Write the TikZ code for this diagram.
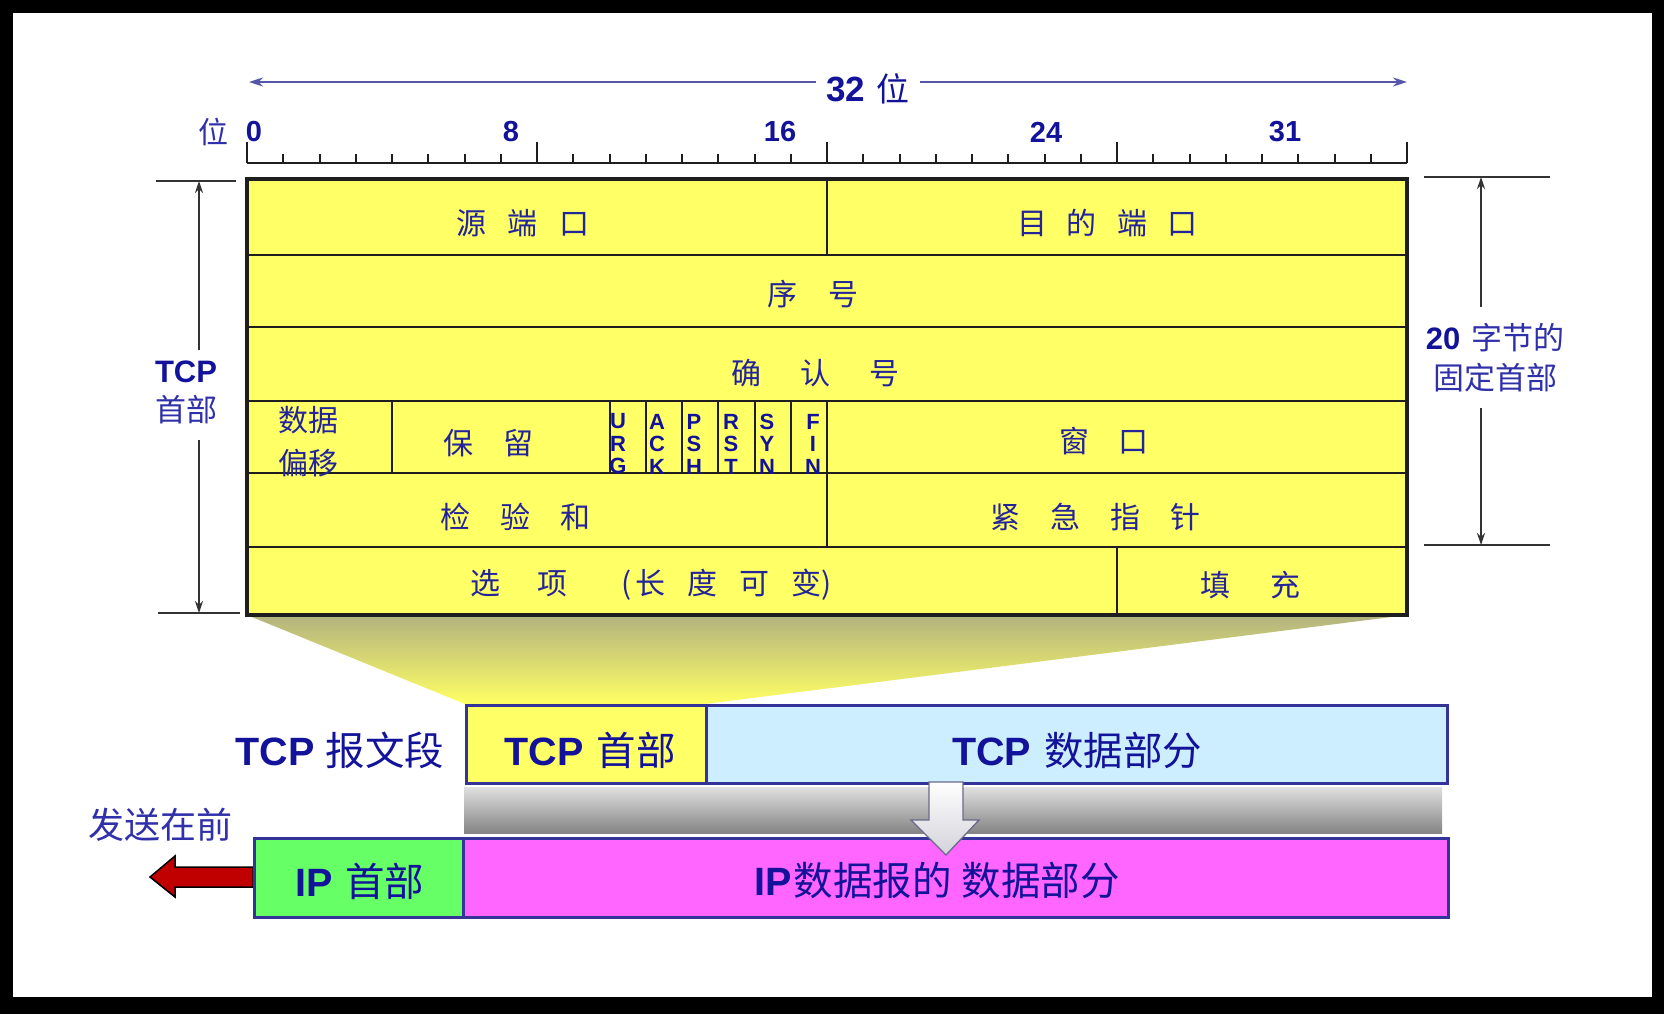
\documentclass[tikz,border=0pt]{standalone}
\usepackage{fontspec}
\setmainfont{Liberation Sans}
\newfontfamily\cjk{Noto Sans CJK SC}
\usetikzlibrary{arrows.meta}
\newcommand\myfs[1]{\fontsize{#1}{#1}\selectfont}
\definecolor{txtblue}{HTML}{12129A}
\definecolor{cjkblue}{HTML}{24249A}
\definecolor{lblblue}{HTML}{3030AA}
\definecolor{tblyellow}{HTML}{FFFF66}
\definecolor{boxblue}{HTML}{333399}
\definecolor{lightblue}{HTML}{CCEEFF}
\definecolor{ipgreen}{HTML}{66FF66}
\definecolor{ipmag}{HTML}{FF66FF}
\definecolor{dimgray}{HTML}{333333}
\definecolor{gridblack}{HTML}{1E1E1E}
\definecolor{arrowred}{HTML}{C00000}
\definecolor{rulerblue}{HTML}{5555AA}
\definecolor{arrowgray}{HTML}{6A6A8A}
\begin{document}
\begin{tikzpicture}[x=1pt,y=-1pt,
  field/.style={font=\cjk\myfs{30}, text=cjkblue, inner sep=0pt},
  rulernum/.style={font=\bfseries\myfs{29}, text=txtblue, inner sep=0pt},
  flagtxt/.style={font=\bfseries\fontsize{22}{22.5}\selectfont, text=txtblue, align=center, inner sep=0pt},
  side/.style={text=lblblue, align=center, inner sep=0pt},
  big/.style={font=\myfs{39.5}, text=txtblue, inner sep=0pt},
  seg/.style={draw=boxblue, line width=3pt, anchor=north west, inner sep=0pt},
  grid/.style={draw=gridblack, line width=2pt},
  rulerline/.style={draw=gridblack, line width=2pt},
  dimline/.style={draw=dimgray, line width=1.8pt},
  dimarrow/.style={dimline, -{Stealth[length=12pt,width=8pt]}},
  bitarrow/.style={draw=rulerblue, line width=2.2pt, -{Stealth[length=14pt,width=9pt]}}
]
% background
\fill[black] (0,0) rectangle (1664,1014);
\fill[white] (13,13) rectangle (1652,997);
\useasboundingbox (0,0) rectangle (1664,1014);

% zoom trapezoid
\shade[top color={rgb,255:red,178;green,178;blue,128}, bottom color={rgb,255:red,255;green,255;blue,100}]
  (247,615) -- (1407,615) -- (705,704) -- (465,704) -- cycle;

% table
\fill[tblyellow] (247,179) rectangle (1407,615);
\foreach \yy in {255,327,401,473,547} \draw[grid] (247,\yy) -- (1407,\yy);
\draw[grid] (827,179) -- (827,255);
\draw[grid] (392,401) -- (392,473);
\foreach \b in {10,...,15} \draw[grid] ({247+36.25*\b},401) -- ({247+36.25*\b},473);
\draw[grid] (827,401) -- (827,547);
\draw[grid] (1117,547) -- (1117,615);
\draw[line width=4pt, draw=gridblack] (247,179) rectangle (1407,615);

% field texts
\node[field] (srcport) at (523,223) {源\hspace{22pt}端\hspace{22pt}口};
\node[field] (dstport) at (1107,223) {目\hspace{20pt}的\hspace{20pt}端\hspace{20pt}口};
\node[field] (seqno) at (813,294) {序\hspace{31pt}号};
\node[field] (ackno) at (815,373) {确\hspace{39pt}认\hspace{39pt}号};
\node[field, align=center, font=\cjk\fontsize{30}{43}\selectfont] (offset) at (308,442) {数据\\偏移};
\node[field] (reserved) at (488,443) {保\hspace{30pt}留};
\node[field] (window) at (1104,441) {窗\hspace{29pt}口};
\node[field] (checksum) at (515,517) {检\hspace{30pt}验\hspace{30pt}和};
\node[field] (urgent) at (1095,517) {紧\hspace{30pt}急\hspace{30pt}指\hspace{30pt}针};
\node[field, anchor=west] (options) at (470,585) {选\hspace{37pt}项\hspace{54pt}(\hspace{4pt}长\hspace{22pt}度\hspace{22pt}可\hspace{22pt}变)};
\node[field] (padding) at (1250,585) {填\hspace{40pt}充};

% flags
\node[flagtxt] (flagurg) at (618,444) {U\\R\\G};
\node[flagtxt] (flagack) at (657,444) {A\\C\\K};
\node[flagtxt] (flagpsh) at (694,444) {P\\S\\H};
\node[flagtxt] (flagrst) at (731,444) {R\\S\\T};
\node[flagtxt] (flagsyn) at (767,444) {S\\Y\\N};
\node[flagtxt] (flagfin) at (813,444) {F\\I\\N};

% ruler
\draw[rulerline] (247,163) -- (1407,163);
\foreach \i in {0,...,32} {
  \pgfmathsetmacro\xx{247+36.25*\i}
  \pgfmathtruncatemacro\m{mod(\i,8)}
  \ifnum\m=0
    \draw[rulerline] (\xx,163) -- (\xx,142);
  \else
    \draw[rulerline] (\xx,163) -- (\xx,154);
  \fi
}
\node[side, font=\cjk\myfs{30}] (weilbl) at (213,132) {位};
\node[rulernum] (r0) at (254,132) {0};
\node[rulernum] (r8) at (511,132) {8};
\node[rulernum] (r16) at (780,132) {16};
\node[rulernum] (r24) at (1046,132) {24};
\node[rulernum] (r31) at (1285,132) {31};

% 32 bits arrow
\node[inner sep=0pt, text=txtblue] (bits) at (868,89) {{\bfseries\myfs{35}32}\hspace{12pt}{\cjk\myfs{33}位}};
\coordinate (bitsl) at (249,82);
\coordinate (bitsr) at (1407,82);
\draw[bitarrow] ([xshift=-10pt]bits.west |- bitsl) -- (bitsl);
\draw[bitarrow] ([xshift=10pt]bits.east |- bitsr) -- (bitsr);

% left dimension: TCP header
\coordinate (lt) at (199,181);
\coordinate (lb) at (199,613);
\coordinate (lgt) at (199,350);
\coordinate (lgb) at (199,440);
\draw[dimline] (156,181) -- (236,181);
\draw[dimline] (158,613) -- (240,613);
\draw[dimarrow] (lgt) -- (lt);
\draw[dimarrow] (lgb) -- (lb);
\node[side, font=\fontsize{31}{39}\selectfont] (tcphdrlbl) at (186,392) {{\bfseries\color{txtblue}TCP}\\{\cjk 首部}};

% right dimension: 20 bytes
\coordinate (rt) at (1481,177);
\coordinate (rb) at (1481,545);
\coordinate (rgt) at (1481,307);
\coordinate (rgb) at (1481,408);
\draw[dimline] (1424,177) -- (1550,177);
\draw[dimline] (1424,545) -- (1550,545);
\draw[dimarrow] (rgt) -- (rt);
\draw[dimarrow] (rgb) -- (rb);
\node[side, font=\fontsize{31}{40}\selectfont] (fixedlbl) at (1495,358) {{\bfseries\color{txtblue}20}\hspace{11pt}{\cjk 字节的}\\{\cjk 固定首部}};

% send first arrow
\filldraw[fill=arrowred, draw=black, line width=1.5pt, line join=miter]
  (150,877) -- (175,856) -- (175,867) -- (253,867) -- (253,887) -- (175,887) -- (175,897) -- cycle;
\node[side, font=\cjk\myfs{36}] (sendfirst) at (160,825) {发送在前};

% gray bar
\shade[top color={rgb,255:red,224;green,224;blue,224}, bottom color={rgb,255:red,132;green,132;blue,132}]
  (464,787) rectangle (1442,833);

% IP datagram
\node[seg, fill=ipgreen, minimum width=209pt, minimum height=79pt] (iphdr) at (253,837) {};
\node[seg, fill=ipmag, minimum width=985pt, minimum height=79pt] (ipdata) at (462,837) {};

% TCP segment
\node[seg, fill=tblyellow, minimum width=240pt, minimum height=78pt] (tcphdr) at (465,704) {};
\node[seg, fill=lightblue, minimum width=741pt, minimum height=78pt] (tcpdata) at (705,704) {};

% down arrow
\shadedraw[top color=white, bottom color={rgb,255:red,210;green,210;blue,218}, draw=arrowgray, line width=1.3pt, line join=miter]
  (929,782) -- (963,782) -- (963,820) -- (979,820) -- (946,855) -- (911,820) -- (929,820) -- cycle;

% labels
\node[big] (seglbl) at (340,750) {{\bfseries TCP}\hspace{11pt}{\cjk 报文段}};
\node[big] (tcphdrtxt) at (590,750) {{\bfseries TCP}\hspace{13pt}{\cjk 首部}};
\node[big] (tcpdatatxt) at (1077,750) {{\bfseries TCP}\hspace{13pt}{\cjk 数据部分}};
\node[big] (iphdrtxt) at (360,881) {{\bfseries IP}\hspace{12pt}{\cjk 首部}};
\node[big] (ipdatatxt) at (937,880) {{\bfseries IP}\hspace{2pt}{\cjk 数据报的}\hspace{10pt}{\cjk 数据部分}};
\end{tikzpicture}
\end{document}
